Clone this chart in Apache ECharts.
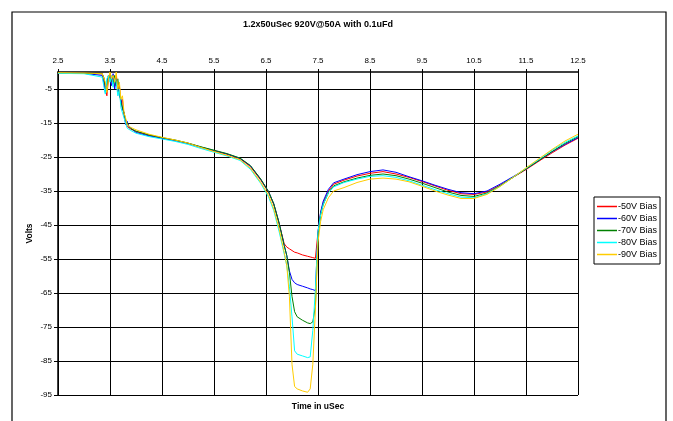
<!DOCTYPE html>
<html>
<head>
<meta charset="utf-8">
<script src="https://cdn.jsdelivr.net/npm/echarts@6/dist/echarts.min.js"></script>
<style>
html,body{margin:0;padding:0;background:#fff}
#chart{width:673px;height:421px}
</style>
</head>
<body>
<div id="chart"></div>
<script>
// time axis (uSec), shared by all five traces
var times = [2.5, 3.0,
  3.35, 3.38, 3.41, 3.44, 3.47, 3.5, 3.53, 3.56, 3.59, 3.62, 3.65, 3.68, 3.71, 3.74, 3.77, 3.8, 3.83, 3.86, 3.9,
  4.0,
  4.25, 4.5, 4.75, 5.0, 5.25, 5.5, 5.75, 6.0, 6.2, 6.4, 6.55, 6.65, 6.75,
  6.85, 6.9, 6.95, 7.0, 7.05, 7.1, 7.2, 7.3, 7.35, 7.4, 7.45, 7.5, 7.55, 7.6, 7.7, 7.8,
  8.0, 8.25, 8.5, 8.75, 9.0, 9.25, 9.5, 9.75, 10.0, 10.25, 10.5, 10.75, 11.0, 11.25, 11.5, 11.75, 12.0, 12.25, 12.5];

// volts
var bias50 = [-0.3, -0.4,
  -0.5, -2, -5, -7, -2, -0.5, -3, -1, -4, -1, -6, -4, -9, -8, -13, -12.5, -16, -15.5, -16.8,
  -17.5,
  -18.6, -19.4, -20.1, -21, -22.2, -23.2, -24.2, -25.5, -27.8, -31.8, -35.4, -39, -44.5,
  -50.5, -51.5, -52, -52.5, -53, -53.2, -53.8, -54.2, -54.4, -54.6, -54.8, -47, -41.5, -38.5, -35, -33,
  -31.8, -30.6, -29.8, -29.3, -30, -31, -32.2, -33.5, -34.8, -35.8, -36, -35.3, -33.3, -31, -28.7, -26.2, -23.8, -21.5, -19.5];
var bias60 = [-0.3, -0.4,
  -1, -3, -6, -3, -1, -2, -4, -0.5, -5, -2, -4, -7, -8, -11, -12, -15.5, -14.5, -16, -16.5,
  -17.8,
  -18.8, -19.5, -20.2, -21, -22.1, -23.1, -24.1, -25.4, -27.6, -31.6, -35.2, -38.8, -44.3,
  -51, -54, -58.5, -61, -62, -62.5, -63, -63.5, -63.8, -64, -64.3, -47, -41.2, -38, -34.5, -32.6,
  -31.5, -30.2, -29.3, -28.8, -29.5, -30.8, -32, -33.3, -34.5, -35.5, -35.8, -35, -33, -30.8, -28.5, -26, -23.5, -21.3, -19.3];
var bias70 = [-0.3, -0.4,
  -0.5, -1.5, -4, -5.5, -1, -1, -2.5, -3.5, -1, -4, -2, -6, -9, -9.5, -12, -14, -15, -15.8, -16.6,
  -17.4,
  -18.5, -19.3, -20, -20.9, -22, -23, -24, -25.3, -27.5, -31.5, -35.2, -38.8, -44.3,
  -51, -54, -59, -66, -70.5, -72, -73, -73.8, -74, -73.5, -69, -48, -42, -39, -35.5, -33.5,
  -32.3, -31.2, -30.4, -30, -30.5, -31.5, -32.7, -34, -35.3, -36.3, -36.6, -35.6, -33.5, -31, -28.5, -26, -23.4, -21, -19];
var bias80 = [-0.4, -0.5,
  -1.5, -4, -6.5, -2, -1, -3, -1, -4.5, -2, -3, -7, -5, -10.5, -10, -13.5, -15, -16.5, -17, -17.2,
  -18,
  -19, -19.7, -20.4, -21.3, -22.5, -23.6, -24.7, -26, -28.6, -32.8, -36.8, -40.8, -46.8,
  -53.5, -57, -63, -72, -82, -83, -83.5, -84, -83.8, -76, -64, -47, -42, -39, -35.5, -33.8,
  -32.5, -31.5, -30.7, -30.5, -31, -32, -33.3, -34.6, -35.8, -36.8, -37, -35.8, -33.6, -31, -28.3, -25.7, -23, -20.7, -18.8];
var bias90 = [-0.2, -0.3,
  -0.5, -1, -3, -6, -2, 0, -2, -1, -3, 0, -5, -3, -8, -7, -12, -13.5, -15.5, -16, -16.3,
  -17,
  -18.3, -19.2, -20, -20.9, -22.2, -23.4, -24.5, -25.8, -28.3, -32.5, -36.3, -40.3, -46,
  -53, -57, -66, -86, -92.5, -93.2, -93.8, -94.2, -93.2, -86, -70, -50, -44, -40.5, -37, -35,
  -34, -32.5, -31.5, -31.2, -31.5, -32.3, -33.6, -35, -36.2, -37.2, -37.2, -36, -33.7, -31, -28.2, -25.5, -22.8, -20.3, -18.3];

var names = ['-50V Bias', '-60V Bias', '-70V Bias', '-80V Bias', '-90V Bias'];
var colors = ['#FF0000', '#0000FF', '#008000', '#00FFFF', '#FFCC00'];
var xTicks = [2.5, 3.5, 4.5, 5.5, 6.5, 7.5, 8.5, 9.5, 10.5, 11.5, 12.5];
var yTicks = [-95, -85, -75, -65, -55, -45, -35, -25, -15, -5];

var traces = [bias50, bias60, bias70, bias80, bias90];
var font = '"Liberation Sans", Arial, sans-serif';

var myChart = echarts.init(document.getElementById('chart'));

var series = traces.map(function (vals, k) {
  return {
    name: names[k],
    type: 'line',
    data: times.map(function (t, i) { return [t, vals[i]]; }),
    showSymbol: false,
    symbol: 'none',
    lineStyle: { color: colors[k], width: 1 },
    itemStyle: { color: colors[k] },
    animation: false
  };
});

var option = {
  backgroundColor: '#fff',
  animation: false,
  grid: { left: 58, right: 95, top: 72, bottom: 26, containLabel: false },
  legend: {
    orient: 'vertical',
    left: 594,
    top: 197,
    data: names,
    icon: 'rect',
    itemWidth: 20,
    itemHeight: 1.5,
    itemGap: 3,
    padding: [5, 3, 5, 3],
    backgroundColor: '#fff',
    borderColor: '#000',
    borderWidth: 1,
    borderRadius: 0,
    textStyle: { fontFamily: font, fontSize: 9, color: '#000', padding: [0, 0, 0, -4] }
  },
  xAxis: {
    type: 'value',
    position: 'top',
    min: 2.5,
    max: 12.5,
    axisLine: { show: true, lineStyle: { color: '#000', width: 1.5 } },
    axisTick: { show: true, customValues: xTicks, length: 3, lineStyle: { color: '#000' } },
    axisLabel: { customValues: xTicks, fontFamily: font, fontSize: 8, color: '#000', margin: 7,
      formatter: function (v) { return v.toFixed(1); } },
    splitLine: { show: true, lineStyle: { color: '#000', width: 1 } }
  },
  yAxis: {
    type: 'value',
    min: -95,
    max: 0,
    name: 'Volts',
    nameLocation: 'middle',
    nameGap: 24,
    nameMoveOverlap: false,
    nameTextStyle: { fontFamily: font, fontSize: 8.5, fontWeight: 'bold', color: '#000' },
    axisLine: { show: true, lineStyle: { color: '#000', width: 1.5 } },
    axisTick: { show: true, customValues: yTicks, length: 4, lineStyle: { color: '#000' } },
    axisLabel: { customValues: yTicks, fontFamily: font, fontSize: 8, color: '#000', margin: 6 },
    splitLine: { show: true, lineStyle: { color: '#000', width: 1 } }
  },
  graphic: [
    { type: 'rect', shape: { x: 12, y: 12, width: 654, height: 430 },
      style: { fill: 'none', stroke: '#000', lineWidth: 1.2 }, z: -1, silent: true },
    { type: 'text', x: 318, y: 25,
      style: { text: '1.2x50uSec 920V@50A with 0.1uFd', font: 'bold 9px ' + font, fill: '#000',
        align: 'center', verticalAlign: 'middle' } },
    { type: 'text', x: 318, y: 407,
      style: { text: 'Time in uSec', font: 'bold 8.5px ' + font, fill: '#000',
        align: 'center', verticalAlign: 'middle' } }
  ],
  series: series
};

myChart.setOption(option);
</script>
</body>
</html>
